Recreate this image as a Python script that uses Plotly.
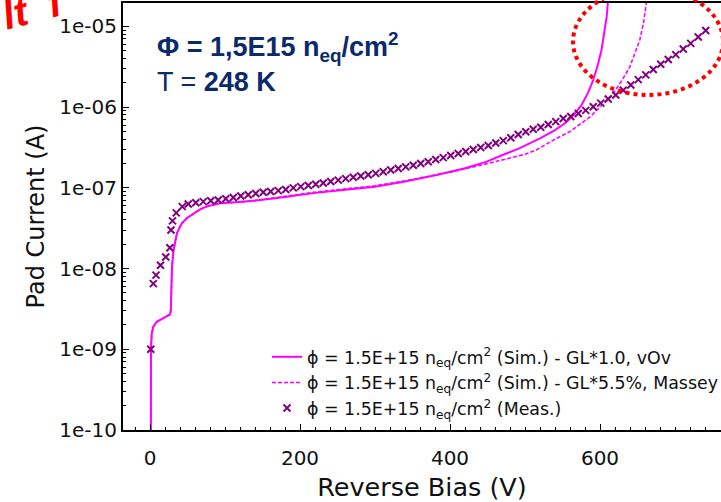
import plotly.graph_objects as go

# ---------------- data ----------------
# Simulation: GL*1.0, vOv (solid)
sim1_v = [0.9, 1.0, 1.3, 2.3, 4.4, 9, 15, 20, 26.7, 27.8, 28.3, 28.8, 29.3, 31.4, 35.9, 40, 42.5, 49,
          62, 66.7, 75, 84, 93, 110, 137, 147, 180, 218, 260, 300, 340, 382, 420, 449, 470, 493,
          520, 540, 555, 565, 575, 584, 591, 597, 602, 606, 609, 612]
sim1_i = [1e-12, 3e-10, 1.0e-9, 1.57e-9, 1.9e-9, 2.19e-9, 2.35e-9, 2.5e-9, 2.7e-9, 3.05e-9, 4.5e-9,
          6.5e-9, 1.05e-8, 1.7e-8, 2.74e-8, 3.3e-8, 3.64e-8, 4.2e-8, 5.07e-8, 5.4e-8, 5.85e-8,
          6.2e-8, 6.45e-8, 6.6e-8, 6.85e-8, 7.05e-8, 7.7e-8, 8.6e-8, 9.5e-8, 1.03e-7, 1.2e-7,
          1.44e-7, 1.75e-7, 2.11e-7, 2.55e-7, 3.1e-7, 4.1e-7, 5.2e-7, 6.5e-7, 8.0e-7, 1.05e-6,
          1.5e-6, 2.18e-6, 3.3e-6, 5.1e-6, 8.5e-6, 1.33e-5, 3e-5]

# Simulation: GL*5.5%, Massey (dashed)
sim2_v = [0.9, 1.0, 1.3, 2.3, 4.4, 9, 15, 20, 26.7, 27.8, 28.3, 28.8, 29.3, 31.4, 35.9, 40, 42.5, 49,
          62, 66.7, 75, 84, 93, 110, 137, 147, 180, 218, 260, 300, 340, 382, 404, 440, 471, 500,
          515, 542, 560, 587, 600, 618, 630, 640, 653, 658, 662]
sim2_i = [1e-12, 3e-10, 1.0e-9, 1.57e-9, 1.9e-9, 2.19e-9, 2.35e-9, 2.5e-9, 2.7e-9, 3.05e-9, 4.5e-9,
          6.5e-9, 1.05e-8, 1.7e-8, 2.74e-8, 3.3e-8, 3.64e-8, 4.2e-8, 5.07e-8, 5.4e-8, 5.85e-8,
          6.2e-8, 6.45e-8, 6.6e-8, 6.85e-8, 7.1e-8, 7.8e-8, 8.8e-8, 9.7e-8, 1.06e-7, 1.22e-7,
          1.45e-7, 1.59e-7, 1.9e-7, 2.22e-7, 2.6e-7, 2.95e-7, 4.1e-7, 4.98e-7, 7.6e-7, 1.0e-6,
          1.49e-6, 2.2e-6, 3.19e-6, 6.8e-6, 1.1e-5, 2e-5]

# Measurement (x markers)
meas_v = [1, 4.4, 8, 14, 21, 26.5, 28, 30, 35, 43, 51, 61, 71,
          81, 91, 101, 111, 121, 131, 141, 151, 161, 171, 181, 191, 201, 211, 221, 231, 241,
          251, 261, 271, 281, 291, 301, 311, 321, 331, 341, 351, 361, 371, 381, 391, 401, 411,
          421, 431, 441, 451, 461, 471, 481, 491, 501, 511, 521, 531, 541, 551, 561, 571, 581,
          591, 601, 611, 621, 631, 641, 651, 661, 671, 681, 691, 701, 711, 721, 731, 741]
meas_i = [1.0e-9, 6.5e-9, 8.3e-9, 1.1e-8, 1.39e-8, 1.81e-8, 3.0e-8, 3.9e-8, 4.9e-8, 5.85e-8, 6.3e-8,
          6.55e-8, 6.75e-8,
          6.92e-8, 7.08e-8, 7.33e-8, 7.59e-8, 7.94e-8, 8.22e-8, 8.51e-8, 8.81e-8, 9.02e-8, 9.23e-8,
          9.55e-8, 1.00e-7, 1.035e-7, 1.07e-7, 1.11e-7, 1.15e-7, 1.20e-7, 1.245e-7, 1.30e-7,
          1.35e-7, 1.40e-7, 1.455e-7, 1.51e-7, 1.585e-7, 1.66e-7, 1.74e-7, 1.82e-7, 1.905e-7,
          2.0e-7, 2.11e-7, 2.24e-7, 2.37e-7, 2.51e-7, 2.66e-7, 2.82e-7, 2.99e-7, 3.16e-7, 3.35e-7,
          3.59e-7, 3.85e-7, 4.17e-7, 4.57e-7, 4.95e-7, 5.31e-7, 5.62e-7, 6.10e-7, 6.61e-7, 7.24e-7,
          7.67e-7, 8.32e-7, 9.12e-7, 1.01e-6, 1.12e-6, 1.26e-6, 1.41e-6, 1.62e-6, 1.88e-6, 2.19e-6,
          2.51e-6, 2.92e-6, 3.39e-6, 3.89e-6, 4.47e-6, 5.25e-6, 6.17e-6, 7.41e-6, 8.91e-6]

y_tickvals = [1e-10, 1e-9, 1e-8, 1e-7, 1e-6, 1e-5]
y_ticktext = ["1e-10", "1e-09", "1e-08", "1e-07", "1e-06", "1e-05"]
x_tickvals = [0, 200, 400, 600]

leg_name = "\u03d5 = 1.5E+15 n<sub>eq</sub>/cm<sup>2</sup>"
names = [leg_name + " (Sim.) - GL*1.0, vOv",
         leg_name + " (Sim.) - GL*5.5%, Massey",
         leg_name + " (Meas.)"]

MAGENTA = "#ff00ff"
PURPLE = "#800080"
NAVY = "#0b2a6a"
FONT = "DejaVu Sans"

# ---------------- figure ----------------
fig = go.Figure()
fig.add_trace(go.Scatter(x=sim1_v, y=sim1_i, mode="lines", name=names[0],
                         line=dict(color=MAGENTA, width=2)))
fig.add_trace(go.Scatter(x=sim2_v, y=sim2_i, mode="lines", name=names[1],
                         line=dict(color=MAGENTA, width=1.6, dash="4px,2px")))
fig.add_trace(go.Scatter(x=meas_v, y=meas_i, mode="markers", name=names[2],
                         marker=dict(symbol="x-thin", size=7, color=PURPLE,
                                     line=dict(color=PURPLE, width=2))))

W, H = 721, 502
ml, mr, mt, mb = 123, 0, 3, 72
pw, ph = W - ml - mr, H - mt - mb


def px_x(p):
    return (p - ml) / pw


def px_y(p):
    return (H - mb - p) / ph


fig.update_layout(
    width=W, height=H,
    margin=dict(l=ml, r=mr, t=mt, b=mb, pad=0, autoexpand=False),
    paper_bgcolor="white", plot_bgcolor="white",
    font=dict(family=FONT, color="black"),
    showlegend=True,
    legend=dict(x=px_x(267), xanchor="left", y=px_y(426), yanchor="bottom",
                bgcolor="rgba(0,0,0,0)", font=dict(family=FONT, size=17.4, color="#111111"),
                tracegroupgap=0, itemwidth=30),
    xaxis=dict(range=[(ml - 150) / 0.75, (W - 150) / 0.75], automargin=False,
               tickvals=x_tickvals, ticks="inside", ticklen=6, tickwidth=1.2, tickcolor="black",
               minor=dict(dtick=20, ticks="inside", ticklen=3, tickwidth=1, tickcolor="black"),
               showgrid=False, zeroline=False, showline=True, linecolor="black", linewidth=2,
               mirror=True, tickfont=dict(family=FONT, size=20, color="#111111"),
               ticklabelstandoff=9,
               title=dict(text="Reverse Bias (V)", font=dict(family=FONT, size=25.5, color="#111111"),
                          standoff=12)),
    yaxis=dict(type="log", range=[-10, -4.71], automargin=False,
               tickvals=y_tickvals, ticktext=y_ticktext,
               ticks="inside", ticklen=6, tickwidth=1.2, tickcolor="black",
               minor=dict(dtick="D1", ticks="inside", ticklen=3, tickwidth=1, tickcolor="black"),
               showgrid=False, zeroline=False, showline=True, linecolor="black", linewidth=2,
               mirror=False, tickfont=dict(family=FONT, size=20, color="#111111"),
               title=dict(text="Pad Current (A)", font=dict(family=FONT, size=24, color="#111111"),
                          standoff=8)),
)

# text annotations in the upper left of the plot
fig.add_annotation(xref="paper", yref="paper", x=px_x(155), y=px_y(47), xanchor="left",
                   yanchor="middle", showarrow=False,
                   text="<b>\u03a6 = 1,5E15 n<sub>eq</sub>/cm<sup>2</sup></b>",
                   font=dict(family="Liberation Sans", size=27, color=NAVY))
fig.add_annotation(xref="paper", yref="paper", x=px_x(155), y=px_y(82), xanchor="left",
                   yanchor="middle", showarrow=False,
                   text="T = <b>248 K</b>",
                   font=dict(family="Liberation Sans", size=27, color=NAVY))

# red hand-drawn marks (overlay)
fig.add_shape(type="circle", xref="paper", yref="paper",
              x0=px_x(573), x1=px_x(723), y0=px_y(95), y1=px_y(-12),
              line=dict(color="red", width=4, dash="dot"))
fig.add_annotation(xref="paper", yref="paper", x=px_x(34), y=px_y(8), xanchor="center",
                   yanchor="middle", showarrow=False, textangle=-15,
                   text="<b><i>lt  f</i></b>",
                   font=dict(family="Liberation Sans", size=40, color="red"))

fig.write_html("out.html")
